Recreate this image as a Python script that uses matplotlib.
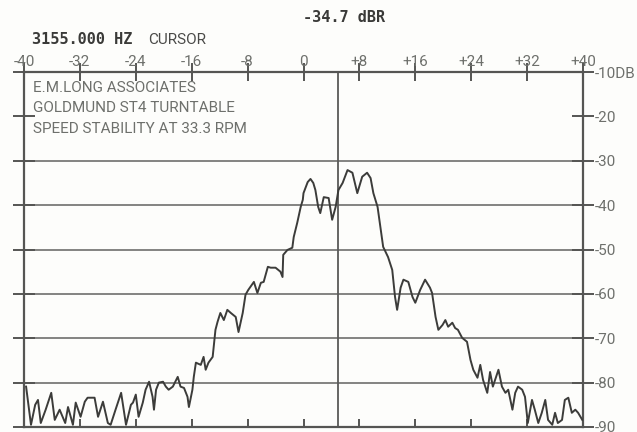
import matplotlib
matplotlib.use('Agg')
import matplotlib.pyplot as plt

# spectrum trace around the 3150 Hz test tone, offset in Hz vs level in dB
freq = [-39.7, -39.0, -38.4, -38.0, -37.6, -36.9, -36.1, -35.6, -34.9, -34.1,
        -33.7, -33.0, -32.6, -31.9, -31.3, -30.9, -30.4, -29.9, -29.4, -28.7,
        -28.0, -27.6, -26.9, -26.1, -25.4, -24.7, -24.4, -24.0, -23.6, -23.0,
        -22.6, -22.1, -21.6, -21.4, -21.1, -20.7, -20.1, -19.7, -19.3, -18.7,
        -18.0, -17.6, -17.1, -16.6, -16.4, -15.9, -15.7, -15.4, -14.7, -14.3,
        -14.0, -13.6, -13.0, -12.6, -12.3, -11.9, -11.4, -10.9, -10.4, -9.7,
        -9.3, -8.7, -8.3, -7.9, -7.1, -6.6, -6.1, -5.7, -5.1, -4.7,
        -4.0, -3.3, -3.0, -2.9, -2.3, -1.6, -1.4, -0.9, -0.4, -0.1,
        0.0, 0.6, 1.0, 1.4, 1.7, 2.1, 2.4, 2.9, 3.6, 4.1,
        4.6, 5.0, 5.6, 6.3, 7.0, 7.7, 8.4, 9.1, 9.6, 10.0,
        10.6, 11.0, 11.4, 12.1, 12.7, 13.1, 13.4, 13.9, 14.3, 15.0,
        15.6, 16.0, 16.7, 17.4, 18.1, 18.4, 18.9, 19.3, 19.9, 20.3,
        20.7, 21.3, 21.7, 22.1, 22.7, 23.4, 23.9, 24.3, 24.9, 25.3,
        25.7, 26.3, 26.7, 27.1, 27.9, 28.4, 28.9, 29.3, 29.9, 30.3,
        30.7, 31.3, 31.7, 32.1, 32.7, 33.1, 33.6, 34.1, 34.6, 35.0,
        35.6, 36.0, 36.4, 37.0, 37.4, 37.9, 38.4, 38.9, 39.3, 39.9]
level = [-80.9, -89.5, -85.0, -83.9, -89.1, -86.1, -82.3, -88.4, -86.1, -89.1,
         -85.5, -89.5, -84.5, -87.7, -84.3, -83.4, -83.4, -83.4, -87.7, -84.3,
         -89.1, -89.5, -86.1, -82.3, -89.5, -85.0, -84.5, -82.7, -87.7, -84.5,
         -81.6, -79.8, -83.2, -86.1, -81.6, -80.0, -79.8, -80.9, -81.6, -80.9,
         -78.7, -80.9, -81.2, -83.2, -85.5, -81.6, -78.7, -75.5, -76.0, -74.2,
         -77.1, -75.5, -74.2, -68.1, -66.3, -64.3, -65.9, -63.6, -64.3, -65.2,
         -68.6, -64.3, -60.2, -59.1, -57.3, -59.8, -57.5, -57.3, -53.9, -54.1,
         -54.1, -55.0, -56.2, -51.2, -50.1, -49.6, -47.2, -44.0, -40.4, -38.8,
         -37.3, -34.8, -34.1, -35.0, -36.6, -40.4, -41.8, -38.2, -38.4, -43.3,
         -40.4, -36.6, -35.0, -32.1, -32.7, -37.3, -33.6, -32.7, -33.9, -37.3,
         -40.4, -44.9, -49.4, -51.7, -54.6, -60.7, -63.6, -58.6, -56.8, -57.3,
         -60.7, -62.0, -59.1, -56.8, -58.6, -59.8, -65.2, -68.1, -67.0, -65.9,
         -67.4, -66.5, -67.7, -68.1, -69.9, -70.8, -74.9, -77.1, -78.9, -76.0,
         -79.4, -82.3, -77.6, -80.9, -77.1, -80.9, -82.3, -81.6, -86.1, -82.3,
         -80.9, -81.6, -83.2, -89.1, -83.9, -86.1, -89.1, -86.8, -83.9, -88.4,
         -89.5, -86.8, -89.1, -88.4, -83.9, -83.4, -86.8, -86.1, -86.8, -88.4]

freq_ticks = [-40, -32, -24, -16, -8, 0, 8, 16, 24, 32, 40]
freq_labels = ['-40', '-32', '-24', '-16', '-8', '0', '+8', '+16', '+24', '+32', '+40']
db_ticks = [-10, -20, -30, -40, -50, -60, -70, -80, -90]
db_labels = ['-10DB', '-20', '-30', '-40', '-50', '-60', '-70', '-80', '-90']
grid_levels = [-30, -40, -50, -60, -70, -80]
cursor_hz = 5

header_lines = ['E.M.LONG ASSOCIATES', 'GOLDMUND ST4 TURNTABLE', 'SPEED STABILITY AT 33.3 RPM']

pale = '#6e706c'
plotter_font = ['Roboto', 'DejaVu Sans']
fs = 11

fig = plt.figure(figsize=(6.37, 4.32), dpi=100, facecolor='#fdfdfb')
ax = fig.add_axes([24/637, 1 - 427/432, 559/637, 355/432])
ax.set_facecolor('#fdfdfb')

for lv in grid_levels:
    ax.axhline(lv, color='#7a7a78', lw=1.3, zorder=1)
ax.axvline(cursor_hz, color='#5a5a58', lw=1.3, zorder=1)

ax.plot(freq, level, color='#3c3c3a', lw=1.4, zorder=3)

ax.set_xlim(-40, 40)
ax.set_ylim(-90, -10)
for s in ax.spines.values():
    s.set_color('#555553')
    s.set_linewidth(1.6)

# frequency scale on top, crossing ticks
ax.xaxis.tick_top()
ax.set_xticks(freq_ticks)
ax.set_xticklabels(freq_labels, family=plotter_font, fontsize=fs, color=pale)
ax.tick_params(axis='x', direction='inout', length=13, width=1.4, color='#555553', pad=-4)

# small inward ticks along the bottom edge
bot = ax.secondary_xaxis('bottom')
bot.set_xticks(freq_ticks[1:-1])
bot.set_xticklabels([])
bot.tick_params(direction='in', length=6, width=1.4, color='#555553')
bot.spines['bottom'].set_visible(False)

# dB scale on the right, ticks on both sides
ax.set_yticks(db_ticks)
ax.set_yticklabels(db_labels, family=plotter_font, fontsize=fs, color=pale)
ax.tick_params(axis='y', left=True, right=True, labelleft=False, labelright=True,
               direction='inout', length=16, width=1.4, color='#555553', pad=0.5)

for i, line in enumerate(header_lines):
    ax.text(33/637, 1 - (88 + 20.5*i)/432, line, transform=fig.transFigure,
            family=plotter_font, fontsize=fs, color=pale, va='center', ha='left')

fig.text(32/637, 1 - 40/432, '3155.000 HZ', family='DejaVu Sans Mono', weight='bold',
         fontsize=11, color='#3a3a38', va='center', ha='left')
fig.text(148/637, 1 - 40/432, 'CURSOR', family=plotter_font,
         fontsize=fs, color='#4a4a48', va='center', ha='left')
fig.text(344/637, 1 - 18/432, '-34.7 dBR', family='DejaVu Sans Mono', weight='bold',
         fontsize=11, color='#3a3a38', va='center', ha='center')

fig.savefig('out.png', dpi=100, facecolor=fig.get_facecolor())
